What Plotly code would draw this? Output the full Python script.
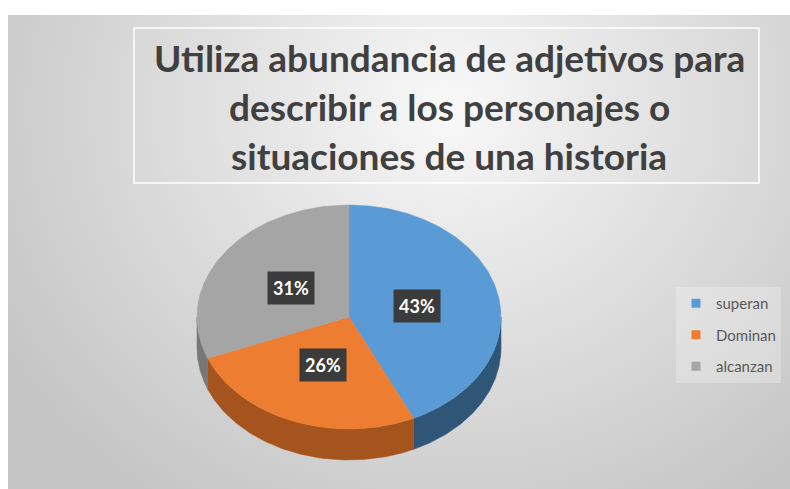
import base64
import numpy as np
import plotly.graph_objects as go

# ---- data ----
categories = ["superan", "Dominan", "alcanzan"]
values = [43, 26, 31]
label_texts = ["43%", "26%", "31%"]
title_lines = ["Utiliza abundancia de adjetivos para",
               "describir a los personajes o",
               "situaciones de una historia"]

# ---- style ----
top_colors = ["#5b9bd5", "#ed7d31", "#a5a5a5"]
side_colors = ["#2f5577", "#a4541c", "#777777"]
W, H = 790, 489
cx, cy, rx, ry, depth = 349, 317, 152, 112, 31
label_r = 0.46
FONT = "Lato"

total = float(sum(values))
bounds = np.concatenate([[0], np.cumsum(values)]) / total * 360.0


def pt(theta_deg, dy=0.0):
    t = np.radians(theta_deg)
    return cx + rx * np.sin(t), cy - ry * np.cos(t) + dy


fig = go.Figure()

# background gradient
svg = (
    '<svg xmlns="http://www.w3.org/2000/svg" width="800" height="480" preserveAspectRatio="none">'
    '<defs><radialGradient id="g" gradientUnits="userSpaceOnUse" cx="440" cy="95" r="470" '
    'gradientTransform="translate(440 95) scale(1.1 1) translate(-440 -95)">'
    '<stop offset="0" stop-color="#f9f9f9"/>'
    '<stop offset="0.22" stop-color="#ececec"/>'
    '<stop offset="0.6" stop-color="#d9d9d9"/>'
    '<stop offset="1" stop-color="#c5c5c5"/></radialGradient></defs>'
    '<rect width="800" height="480" fill="url(#g)"/></svg>'
)
src = "data:image/svg+xml;base64," + base64.b64encode(svg.encode()).decode()
fig.add_layout_image(dict(source=src, xref="x", yref="y", x=8, y=15,
                          sizex=800, sizey=480, sizing="stretch",
                          layer="below", xanchor="left", yanchor="top"))

# side faces (front half only)
for i in range(len(values)):
    a1, a2 = max(bounds[i], 90.0), min(bounds[i + 1], 270.0)
    if a2 <= a1:
        continue
    th = np.linspace(a1, a2, 80)
    xs_top, ys_top = pt(th)
    xs_bot, ys_bot = pt(th[::-1], depth)
    xs = np.concatenate([xs_top, xs_bot, xs_top[:1]])
    ys = np.concatenate([ys_top, ys_bot, ys_top[:1]])
    fig.add_trace(go.Scatter(x=xs, y=ys, mode="lines", fill="toself",
                             fillcolor=side_colors[i],
                             line=dict(color=side_colors[i], width=0.5),
                             showlegend=False, hoverinfo="skip"))

# top faces
for i in range(len(values)):
    th = np.linspace(bounds[i], bounds[i + 1], 150)
    xa, ya = pt(th)
    xs = np.concatenate([[cx], xa, [cx]])
    ys = np.concatenate([[cy], ya, [cy]])
    fig.add_trace(go.Scatter(x=xs, y=ys, mode="lines", fill="toself",
                             fillcolor=top_colors[i],
                             line=dict(color=top_colors[i], width=0.5),
                             showlegend=False, hoverinfo="text",
                             text=f"{categories[i]}: {label_texts[i]}"))

# legend entries
for i, c in enumerate(categories):
    fig.add_trace(go.Scatter(x=[None], y=[None], mode="markers", name=c,
                             legendgroup=c,
                             marker=dict(symbol="square", size=9,
                                         color=top_colors[i])))

# data labels
for i in range(len(values)):
    mid = (bounds[i] + bounds[i + 1]) / 2
    t = np.radians(mid)
    lx = cx + rx * label_r * np.sin(t)
    ly = cy - ry * label_r * np.cos(t)
    fig.add_annotation(x=lx, y=ly, xref="x", yref="y",
                       text=f"<b>{label_texts[i]}</b>", showarrow=False,
                       font=dict(family=FONT, size=18, color="white"),
                       bgcolor="#3b3b3b", borderpad=5)

# title box + lines
fig.add_shape(type="rect", xref="x", yref="y", x0=134, x1=759, y0=28, y1=183,
              line=dict(color="white", width=1.5), fillcolor="rgba(0,0,0,0)",
              layer="above")
for k, line in enumerate(title_lines):
    fig.add_annotation(x=449, y=57 + 49 * k, xref="x", yref="y",
                       text=f"<b>{line}</b>", showarrow=False,
                       font=dict(family=FONT, size=37, color="#404040"))

fig.update_layout(
    width=W, height=H,
    margin=dict(l=0, r=0, t=0, b=0),
    paper_bgcolor="white", plot_bgcolor="rgba(0,0,0,0)",
    xaxis=dict(range=[0, W], visible=False, fixedrange=True),
    yaxis=dict(range=[H, 0], visible=False, fixedrange=True),
    showlegend=True,
    legend=dict(x=676 / W, y=1 - 287 / H, xanchor="left", yanchor="top",
                bgcolor="rgba(255,255,255,0.25)", itemwidth=30,
                tracegroupgap=9, traceorder="grouped",
                font=dict(family=FONT, size=15, color="#595959")),
)

fig.write_html(
    "out.html",
    config={"displayModeBar": False},
    post_script="document.body.style.margin='0';document.body.style.overflow='hidden';",
)
